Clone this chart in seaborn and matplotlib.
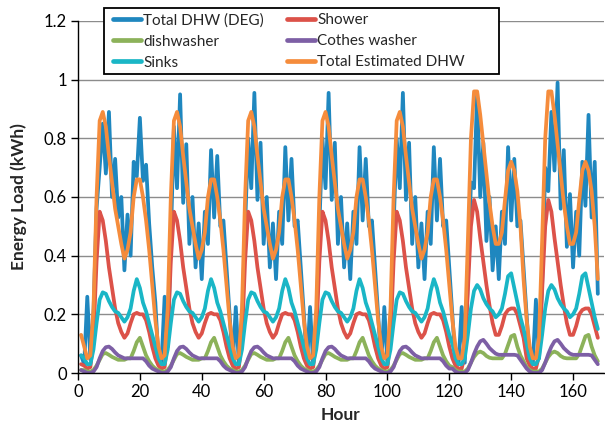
import matplotlib
matplotlib.use("Agg")
import matplotlib.pyplot as plt
from matplotlib.lines import Line2D
from matplotlib.patches import Rectangle
import numpy as np
import pandas as pd
import seaborn as sns

# ---------------- data ----------------
hours = list(range(1, 169))

# Estimated components: hourly profile (hour-of-day 1..24), weekdays and weekend
shower_weekday = [0.05, 0.025, 0.015, 0.02, 0.12, 0.38, 0.55, 0.52, 0.45, 0.36, 0.29, 0.22,
                  0.17, 0.14, 0.12, 0.135, 0.17, 0.2, 0.205, 0.2, 0.2, 0.18, 0.14, 0.09]
shower_weekend = [0.05, 0.025, 0.015, 0.015, 0.06, 0.28, 0.5, 0.59, 0.55, 0.46, 0.38, 0.3,
                  0.23, 0.17, 0.13, 0.13, 0.16, 0.2, 0.215, 0.22, 0.22, 0.2, 0.16, 0.12]
sinks_weekday = [0.09, 0.05, 0.03, 0.03, 0.08, 0.17, 0.25, 0.275, 0.27, 0.245, 0.225, 0.21,
                 0.205, 0.19, 0.175, 0.19, 0.22, 0.28, 0.32, 0.29, 0.24, 0.21, 0.17, 0.13]
sinks_weekend = [0.1, 0.05, 0.03, 0.03, 0.05, 0.13, 0.22, 0.28, 0.3, 0.285, 0.255, 0.235,
                 0.22, 0.21, 0.19, 0.2, 0.22, 0.27, 0.33, 0.34, 0.29, 0.24, 0.19, 0.15]
dish_weekday = [0.015, 0.01, 0.005, 0.005, 0.01, 0.025, 0.045, 0.065, 0.068, 0.062, 0.055, 0.05,
                0.045, 0.045, 0.045, 0.05, 0.05, 0.075, 0.105, 0.12, 0.09, 0.06, 0.04, 0.025]
dish_weekend = [0.02, 0.01, 0.005, 0.005, 0.005, 0.015, 0.035, 0.055, 0.068, 0.073, 0.068, 0.058,
                0.052, 0.05, 0.05, 0.05, 0.05, 0.065, 0.095, 0.125, 0.13, 0.09, 0.06, 0.04]
clothes_weekday = [0.01, 0.005, 0.0, 0.0, 0.005, 0.02, 0.05, 0.075, 0.088, 0.09, 0.082, 0.07,
                   0.06, 0.055, 0.05, 0.05, 0.05, 0.05, 0.05, 0.05, 0.05, 0.04, 0.025, 0.015]
clothes_weekend = [0.015, 0.005, 0.0, 0.0, 0.0, 0.01, 0.035, 0.065, 0.09, 0.108, 0.113, 0.1,
                   0.085, 0.075, 0.066, 0.062, 0.062, 0.062, 0.062, 0.062, 0.062, 0.06, 0.045, 0.03]
total_est_weekday = [0.18, 0.09, 0.05, 0.06, 0.22, 0.6, 0.86, 0.89, 0.84, 0.74, 0.65, 0.56,
                     0.5, 0.44, 0.39, 0.42, 0.48, 0.6, 0.66, 0.66, 0.6, 0.52, 0.42, 0.3]
total_est_weekend = [0.18, 0.09, 0.05, 0.05, 0.12, 0.45, 0.8, 0.96, 0.96, 0.88, 0.78, 0.68,
                     0.58, 0.5, 0.44, 0.44, 0.48, 0.59, 0.69, 0.72, 0.69, 0.62, 0.5, 0.32]
day_types = ["weekday", "weekday", "weekday", "weekday", "weekday", "weekend", "weekend"]

# First hour of the week (start of the record) is lower than later midnights
first_hour = {"Shower": 0.03, "Sinks": 0.06, "dishwasher": 0.01, "Cothes washer": 0.01,
              "Total Estimated DHW": 0.13}

# Measured total DHW (DEG), one list per day
deg_day1 = [0.06, 0.03, 0.26, 0.045, 0.2, 0.56, 0.7, 0.85, 0.68, 0.89, 0.6, 0.73,
            0.53, 0.6, 0.35, 0.54, 0.4, 0.72, 0.67, 0.87, 0.655, 0.71, 0.51, 0.36]
deg_day2 = [0.24, 0.045, 0.035, 0.26, 0.09, 0.45, 0.84, 0.63, 0.95, 0.58, 0.78, 0.44,
            0.6, 0.36, 0.51, 0.32, 0.55, 0.44, 0.76, 0.53, 0.74, 0.5, 0.52, 0.36]
deg_day3 = [0.2, 0.03, 0.225, 0.03, 0.15, 0.5, 0.8, 0.63, 0.955, 0.59, 0.785, 0.44,
            0.6, 0.36, 0.51, 0.32, 0.55, 0.44, 0.77, 0.52, 0.73, 0.5, 0.52, 0.36]
deg_day4 = [0.2, 0.03, 0.225, 0.03, 0.15, 0.5, 0.8, 0.63, 0.955, 0.59, 0.785, 0.44,
            0.6, 0.36, 0.51, 0.32, 0.55, 0.44, 0.77, 0.52, 0.73, 0.5, 0.52, 0.36]
deg_day5 = [0.2, 0.03, 0.225, 0.03, 0.15, 0.5, 0.8, 0.63, 0.955, 0.59, 0.785, 0.44,
            0.6, 0.36, 0.51, 0.32, 0.55, 0.44, 0.77, 0.52, 0.73, 0.5, 0.52, 0.36]
deg_day6 = [0.2, 0.035, 0.03, 0.225, 0.035, 0.32, 0.65, 0.63, 0.955, 0.6, 0.785, 0.45,
            0.6, 0.35, 0.5, 0.32, 0.55, 0.44, 0.77, 0.52, 0.73, 0.5, 0.52, 0.36]
deg_day7 = [0.2, 0.035, 0.03, 0.25, 0.05, 0.3, 0.7, 0.62, 0.89, 0.69, 0.99, 0.56,
            0.76, 0.43, 0.61, 0.36, 0.55, 0.4, 0.72, 0.57, 0.88, 0.53, 0.72, 0.27]

series_names = ["Total DHW (DEG)", "Shower", "dishwasher", "Cothes washer", "Sinks",
                "Total Estimated DHW"]
series_colors = ["#1f87bf", "#dc5249", "#8cb25a", "#7d5fa5", "#1ab6c6", "#f58c3c"]
legend_col1 = ["Total DHW (DEG)", "dishwasher", "Sinks"]
legend_col2 = ["Shower", "Cothes washer", "Total Estimated DHW"]
x_ticks = [0, 20, 40, 60, 80, 100, 120, 140, 160]
y_ticks = [0, 0.2, 0.4, 0.6, 0.8, 1.0, 1.2]
y_tick_labels = ["0", "0.2", "0.4", "0.6", "0.8", "1", "1.2"]

# ---------------- assemble ----------------
def week(wd, we):
    out = []
    for t in day_types:
        out += wd if t == "weekday" else we
    return out

values = {
    "Total DHW (DEG)": deg_day1 + deg_day2 + deg_day3 + deg_day4 + deg_day5 + deg_day6 + deg_day7,
    "Shower": week(shower_weekday, shower_weekend),
    "dishwasher": week(dish_weekday, dish_weekend),
    "Cothes washer": week(clothes_weekday, clothes_weekend),
    "Sinks": week(sinks_weekday, sinks_weekend),
    "Total Estimated DHW": week(total_est_weekday, total_est_weekend),
}
for name, v in first_hour.items():
    values[name][0] = v
frames = [pd.DataFrame({"Hour": hours, "Load": values[n], "Series": n}) for n in series_names]
df = pd.concat(frames, ignore_index=True)

# ---------------- plot ----------------
sns.set_theme(style="white")
plt.rcParams["font.family"] = ["Lato", "DejaVu Sans"]

W, H = 605, 430
fig = plt.figure(figsize=(W / 100, H / 100), dpi=100)
ax = fig.add_axes([78 / W, 1 - 373 / H, (604 - 78) / W, (373 - 21) / H])

palette = dict(zip(series_names, series_colors))
sns.lineplot(data=df, x="Hour", y="Load", hue="Series", hue_order=series_names,
             palette=palette, linewidth=2.7, ax=ax, legend=False)

ax.set_xlim(0, 170)
ax.set_ylim(0, 1.2)
ax.set_xticks(x_ticks)
ax.set_xticklabels([str(t) for t in x_ticks])
ax.set_yticks(y_ticks)
ax.set_yticklabels(y_tick_labels)
ax.yaxis.grid(True, color="#8c8c8c", linewidth=1.0)
ax.xaxis.grid(False)
ax.set_axisbelow(True)
for s in ["top", "right"]:
    ax.spines[s].set_visible(False)
for s in ["left", "bottom"]:
    ax.spines[s].set_color("black")
    ax.spines[s].set_linewidth(1.0)
ax.tick_params(axis="both", direction="out", length=5, width=1, color="black",
               labelsize=12, labelcolor="black", left=True, bottom=True, pad=3)
ax.set_xlabel("Hour", fontsize=12.5, fontweight="bold", labelpad=5)
ax.set_ylabel("Energy Load (kWh)", fontsize=12.5, fontweight="bold", labelpad=12)

# legend: frame drawn as a rectangle, entries in two columns
fig.patches.append(Rectangle((104 / W, 1 - 74 / H), (499 - 104) / W, (74 - 8) / H,
                             transform=fig.transFigure, facecolor="white",
                             edgecolor="black", linewidth=1.3, zorder=5))
for col_names, x0 in [(legend_col1, 112.5), (legend_col2, 286.5)]:
    handles = [Line2D([0], [0], color=palette[n], lw=3.4) for n in col_names]
    leg = fig.legend(handles, col_names, ncol=1, loc="upper left",
                     bbox_to_anchor=(x0 / W, 1 - 13.5 / H), frameon=False,
                     fontsize=11, handlelength=1.85, handletextpad=0.15,
                     labelspacing=0.45, borderpad=0.0, borderaxespad=0.0)
    leg.set_zorder(6)

fig.savefig("out.png", dpi=100)
